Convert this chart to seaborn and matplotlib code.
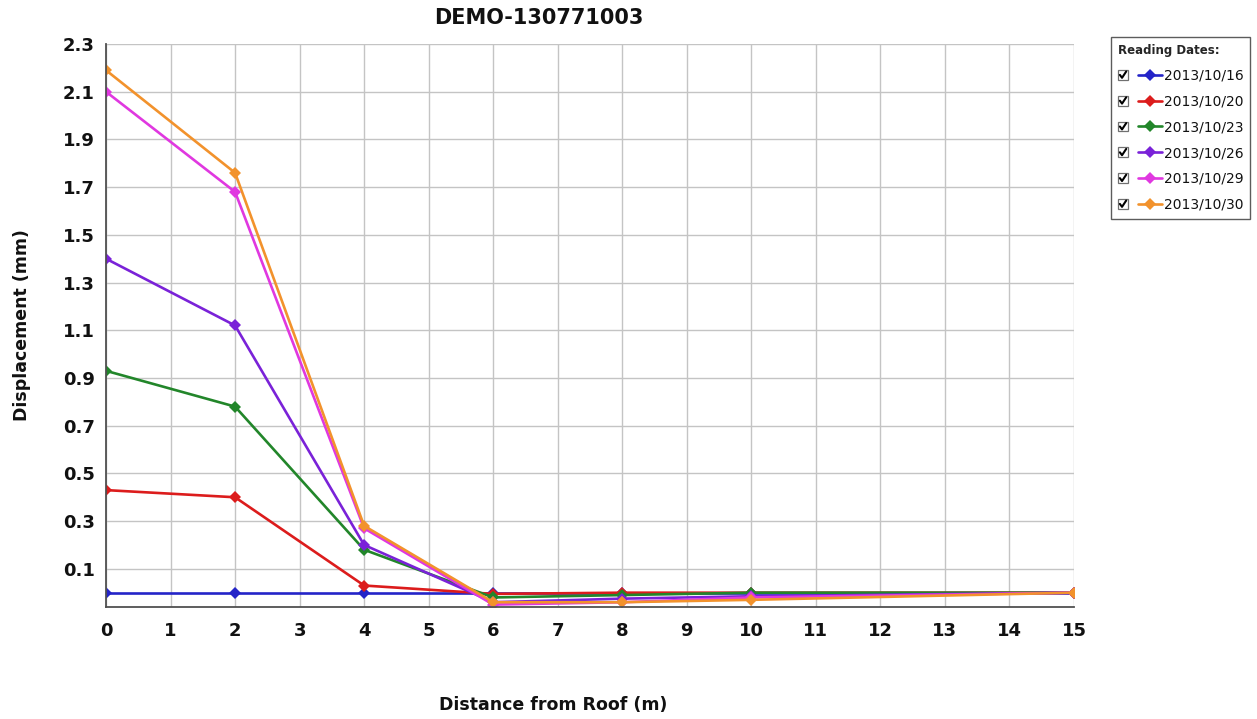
import numpy as np
import pandas as pd
import seaborn as sns
import matplotlib
matplotlib.use('Agg')
import matplotlib.pyplot as plt
from matplotlib.legend_handler import HandlerLine2D
from matplotlib.patches import Rectangle
from matplotlib.lines import Line2D

# ------------------------------- dados ------------------------------- #
distancia = [0, 2, 4, 6, 8, 10, 15]
datas = ['2013/10/16', '2013/10/20', '2013/10/23', '2013/10/26', '2013/10/29', '2013/10/30']

d_1016 = [0.00, 0.00, 0.00, 0.00, 0.00, 0.00, 0.00]
d_1020 = [0.43, 0.40, 0.03, -0.005, 0.00, 0.00, 0.00]
d_1023 = [0.93, 0.78, 0.18, -0.02, -0.01, 0.00, 0.00]
d_1026 = [1.40, 1.12, 0.20, -0.04, -0.025, -0.015, 0.00]
d_1029 = [2.10, 1.68, 0.27, -0.05, -0.04, -0.02, 0.00]
d_1030 = [2.19, 1.76, 0.28, -0.04, -0.04, -0.03, 0.00]

cores = ['#2424c8', '#dc1c1c', '#22862a', '#7a22d8', '#e038e0', '#f2922c']

y_ticks = [0.1, 0.3, 0.5, 0.7, 0.9, 1.1, 1.3, 1.5, 1.7, 1.9, 2.1, 2.3]
x_ticks = list(range(0, 16))

series = [d_1016, d_1020, d_1023, d_1026, d_1029, d_1030]
df = pd.concat([pd.DataFrame({'dist': distancia, 'desloc': s, 'data': d})
                for s, d in zip(series, datas)], ignore_index=True)


# --------------------- legenda com caixa de seleção --------------------- #
class CheckHandler(HandlerLine2D):
    def create_artists(self, legend, orig_handle, xdescent, ydescent,
                       width, height, fontsize, trans):
        box = height * 1.0
        gap = box + 0.72 * fontsize
        arts = super().create_artists(legend, orig_handle, xdescent - gap, ydescent,
                                      width - gap, height, fontsize, trans)
        x0 = -xdescent
        y0 = -ydescent + (height - box) / 2
        rect = Rectangle((x0, y0), box, box, fill=False, edgecolor='#707070',
                         lw=0.9, transform=trans)
        tick = Line2D([x0 + 0.2 * box, x0 + 0.42 * box, x0 + 0.85 * box],
                      [y0 + 0.5 * box, y0 + 0.2 * box, y0 + 0.85 * box],
                      color='black', lw=1.5, transform=trans)
        return [rect, tick] + list(arts)


# ------------------------------- gráfico ------------------------------- #
sns.set_style('white')
plt.rcParams['font.family'] = ['DejaVu Sans']

fig = plt.figure(figsize=(12.57, 7.19), dpi=100)
ax = fig.add_axes([106 / 1257, 1 - 607 / 719, (1074 - 106) / 1257, (607 - 44) / 719])

sns.lineplot(data=df, x='dist', y='desloc', hue='data', palette=cores,
             marker='D', markersize=6.5, markeredgewidth=0, linewidth=1.9,
             legend=False, ax=ax)

ax.set_xlim(0, 15)
ax.set_ylim(-0.06, 2.3)
ax.set_xticks(x_ticks)
ax.set_yticks(y_ticks)
ax.set_xticklabels([str(x) for x in x_ticks])
ax.set_yticklabels([f'{y:.1f}' for y in y_ticks])
ax.grid(True, color='#c4c4c4', lw=1.0)
ax.set_axisbelow(True)

for s in ['top', 'right']:
    ax.spines[s].set_visible(False)
for s in ['left', 'bottom']:
    ax.spines[s].set_color('#505050')
    ax.spines[s].set_linewidth(1.3)

ax.tick_params(axis='both', direction='out', length=5, width=1.1, color='#505050',
               labelsize=13, labelcolor='#111111')
ax.tick_params(axis='y', pad=3)
ax.tick_params(axis='x', pad=6)
for lbl in ax.get_xticklabels() + ax.get_yticklabels():
    lbl.set_fontweight('bold')

ax.set_xlabel('Distance from Roof (m)', fontsize=12.5, fontweight='bold', color='#111111')
ax.set_ylabel('Displacement (mm)', fontsize=12.5, fontweight='bold', color='#111111')
ax.xaxis.set_label_coords((553 - 106) / 968, (607 - 696) / 563)
ax.yaxis.set_label_coords((31 - 106) / 968, 0.5)

fig.text(539 / 1257, 1 - 18 / 719, 'DEMO-130771003', ha='center', va='center',
         fontsize=15, fontweight='bold', color='#111111')

leg = ax.legend(ax.lines[:len(datas)], datas, handler_map={Line2D: CheckHandler()},
                title='Reading Dates:', alignment='left', numpoints=1,
                loc='upper left', bbox_to_anchor=(1111 / 1257, 1 - 37 / 719),
                bbox_transform=fig.transFigure, borderaxespad=0,
                fontsize=10, title_fontproperties={'weight': 'bold', 'size': 8.5},
                handlelength=3.2, handletextpad=0.1, labelspacing=0.85,
                borderpad=0.5, frameon=True, fancybox=False, edgecolor='#333333')
leg.get_frame().set_linewidth(1.0)
for t in leg.get_texts():
    t.set_color('#111111')

plt.savefig('out.png', dpi=100)
